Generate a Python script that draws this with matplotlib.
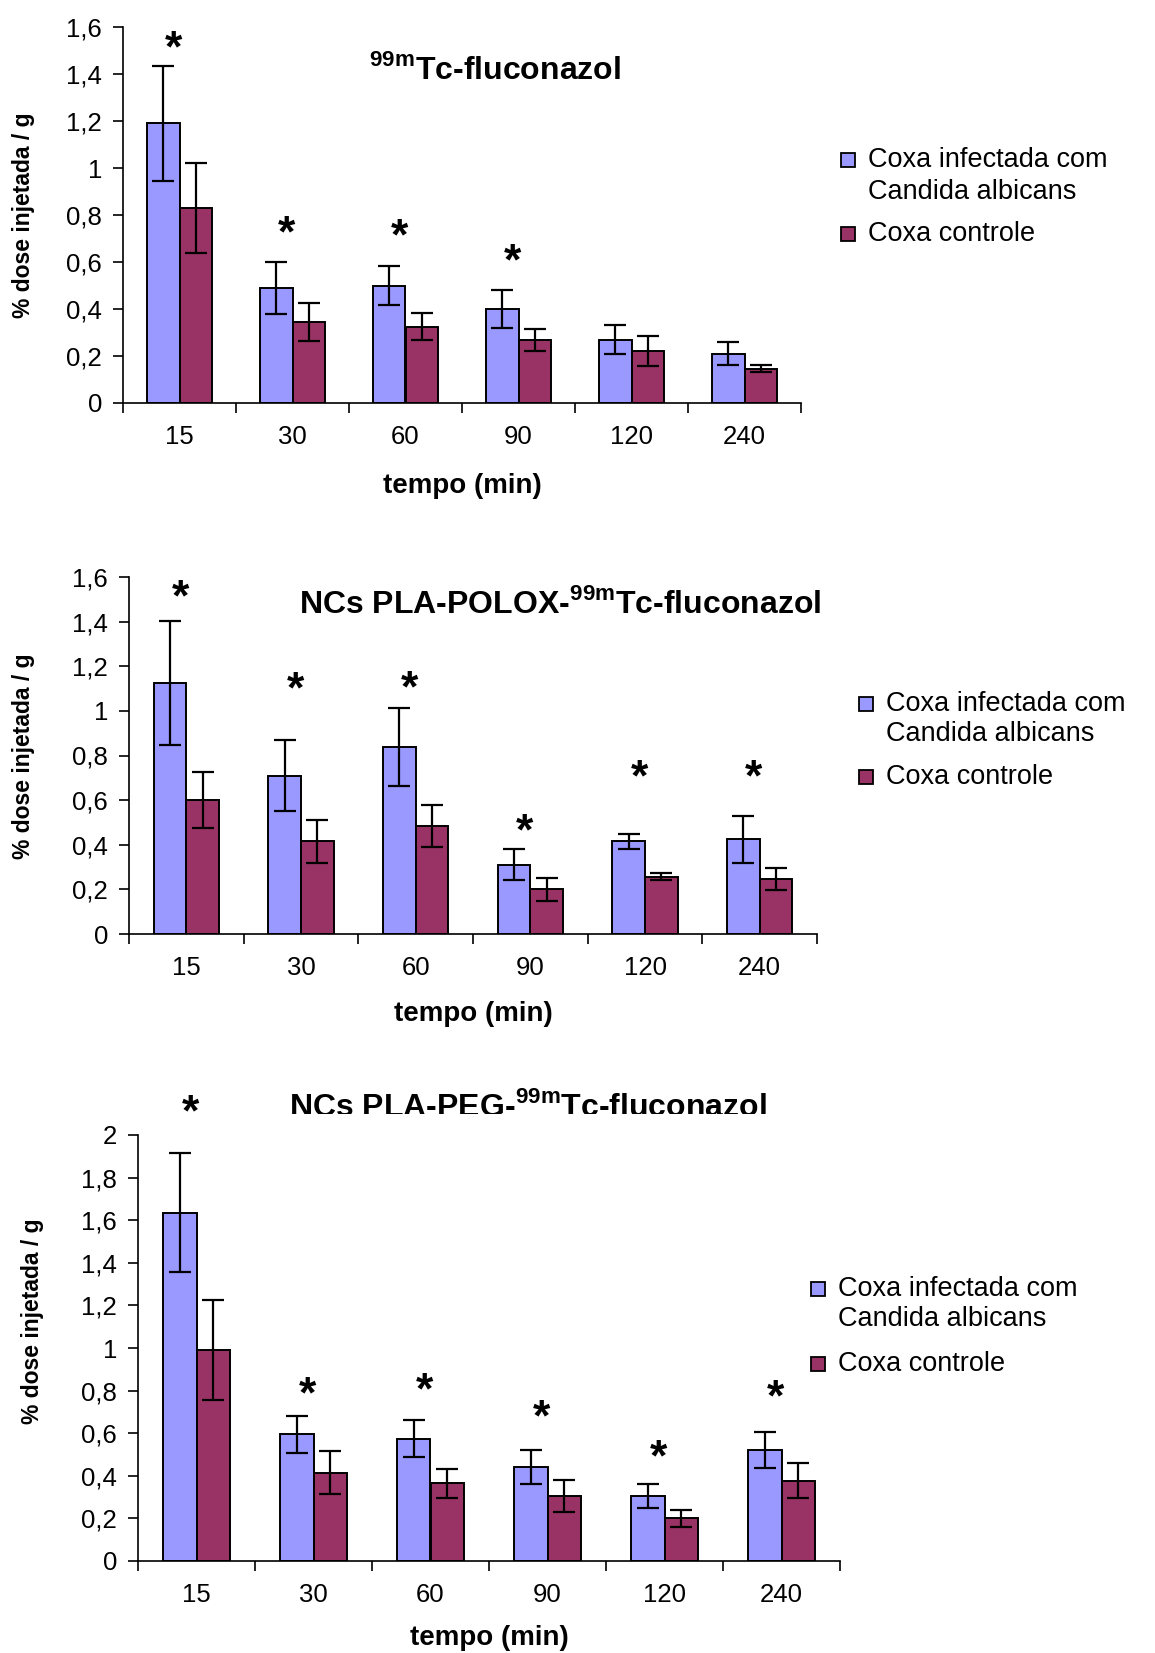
import matplotlib
matplotlib.use("Agg")
import matplotlib.pyplot as plt
from matplotlib.patches import Rectangle
from matplotlib.ticker import FixedLocator, FuncFormatter, MultipleLocator
from matplotlib.transforms import Bbox, TransformedBbox
import numpy as np

plt.rcParams['font.family'] = ['Liberation Sans', 'DejaVu Sans']
plt.rcParams['mathtext.fontset'] = 'custom'
plt.rcParams['mathtext.rm'] = 'Liberation Sans:bold'
plt.rcParams['mathtext.bf'] = 'Liberation Sans:bold'

tempos = ["15", "30", "60", "90", "120", "240"]
nome_inf = "Coxa infectada com\nCandida albicans"
nome_ctl = "Coxa controle"

# 99mTc-fluconazol livre
flu_inf = [1.19, 0.49, 0.50, 0.40, 0.27, 0.21]
flu_inf_err = [0.245, 0.11, 0.085, 0.08, 0.063, 0.049]
flu_ctl = [0.83, 0.345, 0.325, 0.27, 0.22, 0.145]
flu_ctl_err = [0.19, 0.08, 0.058, 0.047, 0.063, 0.015]
flu_star = [1.55, 0.762, 0.75, 0.64, None, None]

# NCs PLA-POLOX
polox_inf = [1.125, 0.71, 0.84, 0.31, 0.415, 0.425]
polox_inf_err = [0.28, 0.16, 0.175, 0.07, 0.035, 0.105]
polox_ctl = [0.60, 0.415, 0.485, 0.20, 0.257, 0.248]
polox_ctl_err = [0.125, 0.095, 0.095, 0.05, 0.015, 0.05]
polox_star = [1.548, 1.136, 1.144, 0.50, 0.743, 0.743]

# NCs PLA-PEG
peg_inf = [1.635, 0.595, 0.575, 0.44, 0.305, 0.52]
peg_inf_err = [0.28, 0.088, 0.085, 0.079, 0.058, 0.084]
peg_ctl = [0.99, 0.415, 0.366, 0.305, 0.20, 0.377]
peg_ctl_err = [0.235, 0.10, 0.068, 0.074, 0.041, 0.083]
peg_star = [2.15, 0.825, 0.842, 0.719, 0.531, 0.813]

AZUL = '#9999FF'
VINHO = '#993366'

W, H = 1155, 1653
fig = plt.figure(figsize=(W / 100, H / 100), dpi=100)


def fx(px):
    return px / W


def fy(py):
    return 1 - py / H


def painel(left, top, right, bottom, ymax, inf, inf_err, ctl, ctl_err, star,
           ylab_xy, xlab_y):
    ax = fig.add_axes([fx(left), fy(bottom), fx(right - left), (bottom - top) / H])
    x = np.arange(len(tempos))
    w = 0.285
    kw = dict(edgecolor='black', linewidth=1.4, zorder=2,
              error_kw=dict(ecolor='black', elinewidth=1.6, capthick=1.6, capsize=8))
    ax.bar(x - w / 2, inf, w, yerr=inf_err, color=AZUL, **kw)
    ax.bar(x + w / 2, ctl, w, yerr=ctl_err, color=VINHO, **kw)
    # asterisco: centro do glifo na altura indicada
    for xi, s in zip(x, star):
        if s is not None:
            ax.annotate('*', (xi - 0.05, s), xytext=(0, -16), textcoords='offset points',
                        ha='center', va='baseline', fontsize=32, fontweight='bold',
                        annotation_clip=False)

    ax.set_xlim(-0.5, len(tempos) - 0.5)
    ax.set_ylim(0, ymax)
    ax.xaxis.set_major_locator(FixedLocator(np.arange(len(tempos) + 1) - 0.5))
    ax.xaxis.set_major_formatter(FuncFormatter(lambda v, p: ''))
    ax.xaxis.set_minor_locator(FixedLocator(x))
    ax.set_xticklabels(tempos, minor=True)
    ax.tick_params(axis='x', which='major', direction='out', length=7, width=1.2)
    ax.tick_params(axis='x', which='minor', length=0, pad=16, labelsize=18.5)
    ax.yaxis.set_major_locator(MultipleLocator(0.2))
    ax.yaxis.set_major_formatter(FuncFormatter(lambda v, p: f"{v:g}".replace('.', ',')))
    ax.tick_params(axis='y', direction='out', length=7, width=1.2, pad=8, labelsize=18.5)
    for s in ('top', 'right'):
        ax.spines[s].set_visible(False)
    for s in ('left', 'bottom'):
        ax.spines[s].set_linewidth(1.2)

    ax.set_ylabel('% dose injetada / g', fontsize=16.5, fontweight='bold')
    ax.yaxis.set_label_coords(*ylab_xy)
    ax.set_xlabel('tempo (min)', fontsize=20, fontweight='bold')
    ax.xaxis.set_label_coords(0.5, xlab_y)
    return ax


def legenda(xq, y1, y2, y3):
    for cor, yy in ((AZUL, y1), (VINHO, y3)):
        fig.add_artist(Rectangle((fx(xq), fy(yy + 7)), fx(14), 14 / H,
                                 facecolor=cor, edgecolor='black', linewidth=1.3,
                                 transform=fig.transFigure))
    tx = xq + 27
    linhas = nome_inf.split('\n')
    fig.text(fx(tx), fy(y1), linhas[0], fontsize=19.5, va='center')
    fig.text(fx(tx), fy(y2), linhas[1], fontsize=19.5, va='center')
    fig.text(fx(tx), fy(y3), nome_ctl, fontsize=19.5, va='center')


def titulo(texto, xc, yb):
    return fig.text(fx(xc), fy(yb), texto, fontsize=23, fontweight='bold',
                    ha='center', va='baseline')


painel(123, 27, 801, 403, 1.6, flu_inf, flu_inf_err, flu_ctl, flu_ctl_err,
       flu_star, (-0.130, 0.5), -0.185)
titulo(r'$^{\mathrm{99m}}$Tc-fluconazol', 495, 79)
legenda(841, 160, 192, 234)

painel(129, 577, 817, 934, 1.6, polox_inf, polox_inf_err, polox_ctl, polox_ctl_err,
       polox_star, (-0.137, 0.499), -0.188)
titulo(r'NCs PLA-POLOX-$^{\mathrm{99m}}$Tc-fluconazol', 560, 613)
legenda(859, 704, 734, 777)

painel(138, 1135, 840, 1561, 2.0, peg_inf, peg_inf_err, peg_ctl, peg_ctl_err,
       peg_star, (-0.134, 0.563), -0.150)
t3 = titulo(r'NCs PLA-PEG-$^{\mathrm{99m}}$Tc-fluconazol', 528, 1116)
# parte de baixo do título fica cortada
t3.set_clip_box(TransformedBbox(Bbox.from_extents(0, fy(1114), 1, 1), fig.transFigure))
t3.set_clip_on(True)
legenda(811, 1289, 1319, 1364)

fig.savefig('out.png', dpi=100, facecolor='white')
